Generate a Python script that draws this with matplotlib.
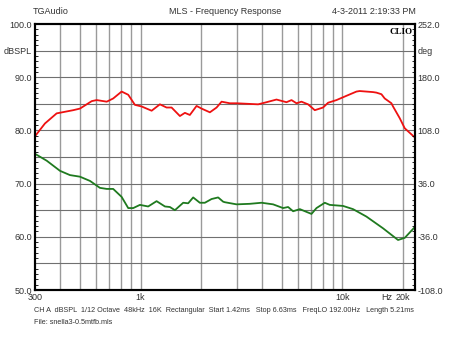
import numpy as np
import matplotlib
matplotlib.use("Agg")
from matplotlib import pyplot as plt
from matplotlib.ticker import FixedLocator, NullFormatter

plt.rcParams['font.family'] = ['Liberation Sans', 'DejaVu Sans']

# red curve (dBSPL)
red_f = [300, 336, 384, 464, 501, 573, 606, 680, 732, 806, 869, 938, 1012, 1135, 1247,
         1346, 1425, 1567, 1659, 1755, 1895, 2006, 2206, 2381, 2521, 2770, 2990, 3825,
         4209, 4716, 5286, 5598, 5925, 6271, 6762, 7300, 8022, 8497, 9348, 10473, 11742,
         12185, 14190, 14750, 15612, 16213, 17500, 17823, 19236, 20370, 22813]
red_db = [78.9, 81.3, 83.2, 83.8, 84.1, 85.5, 85.7, 85.4, 86.0, 87.3, 86.7, 84.8, 84.5, 83.7, 84.9,
          84.3, 84.3, 82.7, 83.3, 82.9, 84.6, 84.1, 83.4, 84.3, 85.4, 85.1, 85.1, 84.9,
          85.3, 85.8, 85.3, 85.7, 85.1, 85.4, 84.9, 83.8, 84.3, 85.2, 85.7, 86.5, 87.3,
          87.4, 87.2, 87.1, 86.8, 86.0, 85.1, 84.5, 82.3, 80.4, 78.7]

# green curve
green_f = [300, 343, 399, 447, 501, 562, 629, 680, 732, 806, 869, 920, 993, 1091, 1201,
           1321, 1398, 1480, 1627, 1722, 1823, 1967, 2083, 2249, 2424, 2566, 2616, 2990,
           3480, 3978, 4537, 5085, 5385, 5701, 6153, 7030, 7442, 8182, 8662, 10080, 11291,
           13159, 15900, 18870, 20370, 22813]
green_db = [75.6, 74.3, 72.4, 71.6, 71.3, 70.5, 69.2, 69.0, 69.0, 67.5, 65.4, 65.4, 66.0, 65.7, 66.7,
            65.7, 65.6, 65.0, 66.4, 66.3, 67.4, 66.4, 66.4, 67.1, 67.4, 66.6, 66.5, 66.1,
            66.2, 66.4, 66.1, 65.4, 65.6, 64.8, 65.2, 64.3, 65.4, 66.4, 66.0, 65.8, 65.2,
            63.8, 61.6, 59.4, 59.8, 61.8]

grid_f = [400, 500, 600, 700, 800, 900, 1000, 2000, 3000, 4000, 5000, 6000, 7000, 8000,
          9000, 10000, 20000]
x_ticks = [300, 1000, 10000, 16580, 20000]
x_labels = ["300", "1k", "10k", "Hz", "20k"]
y_ticks = [50, 55, 60, 65, 70, 75, 80, 85, 90, 95, 100]
y_labels = ["50.0", "", "60.0", "", "70.0", "", "80.0", "", "90.0", "dBSPL", "100.0"]
deg_ticks = [-108, -36, 36, 108, 180, 216, 252]
deg_labels = ["-108.0", "-36.0", "36.0", "108.0", "180.0", "deg", "252.0"]

fig = plt.figure(figsize=(4.5, 3.38), dpi=100)
ax = fig.add_axes([35 / 450, 48 / 338, 380 / 450, 266 / 338])

ax.set_xscale("log")
ax.set_xlim(300, 22900)
ax.set_ylim(50, 100)

for f in grid_f:
    ax.axvline(f, color="#9a9a9a", lw=1.0, zorder=1)
for y in y_ticks[1:-1]:
    ax.axhline(y, color="#707070", lw=0.8, zorder=1)

ax.plot(red_f, red_db, color="#ee1111", lw=1.3, zorder=3)
ax.plot(green_f, green_db, color="#1f7a1f", lw=1.3, zorder=3)

ax.xaxis.set_major_locator(FixedLocator(x_ticks))
ax.set_xticklabels(x_labels)
ax.xaxis.set_minor_formatter(NullFormatter())
ax.xaxis.set_minor_locator(FixedLocator([]))
ax.tick_params(axis="x", length=0, pad=2, labelsize=6.5, colors="#333333")

ax.set_yticks(y_ticks)
ax.set_yticklabels(y_labels)
ax.yaxis.set_minor_locator(FixedLocator(np.arange(50, 101, 1)))
ax.tick_params(axis="y", which="major", length=0, pad=2, labelsize=6.5, labelcolor="#333333")
ax.tick_params(axis="y", which="minor", direction="in", length=2, width=0.6)

ax2 = ax.twinx()
ax2.set_ylim(-108, 252)
ax2.set_yticks(deg_ticks)
ax2.set_yticklabels(deg_labels)
ax2.yaxis.set_minor_locator(FixedLocator(np.arange(-108, 253, 7.2)))
ax2.tick_params(axis="y", which="major", length=0, pad=2, labelsize=6.5, labelcolor="#333333")
ax2.tick_params(axis="y", which="minor", direction="in", length=2, width=0.6)

for a in (ax, ax2):
    for s in a.spines.values():
        s.set_linewidth(1.5)
        s.set_color("black")

ax.text(0.995, 0.985, "CLIO", transform=ax.transAxes, ha="right", va="top",
        fontsize=6.5, fontweight="bold", family="Liberation Serif")

fig.text(33 / 450, 1 - 11 / 338, "TGAudio", fontsize=6.5, color="#333333", va="center")
fig.text(225 / 450, 1 - 11 / 338, "MLS - Frequency Response", fontsize=6.5, color="#333333",
         ha="center", va="center")
fig.text(416 / 450, 1 - 11 / 338, "4-3-2011 2:19:33 PM", fontsize=6.5, color="#333333",
         ha="right", va="center")
fig.text(34 / 450, 1 - 310 / 338,
         "CH A  dBSPL  1/12 Octave  48kHz  16K  Rectangular  Start 1.42ms   "
         "Stop 6.63ms   FreqLO 192.00Hz   Length 5.21ms",
         fontsize=5.2, color="#333333", va="center")
fig.text(34 / 450, 1 - 322 / 338, "File: snella3-0.5mtfb.mls", fontsize=5.2, color="#333333",
         va="center")

fig.savefig("out.png", dpi=100)
